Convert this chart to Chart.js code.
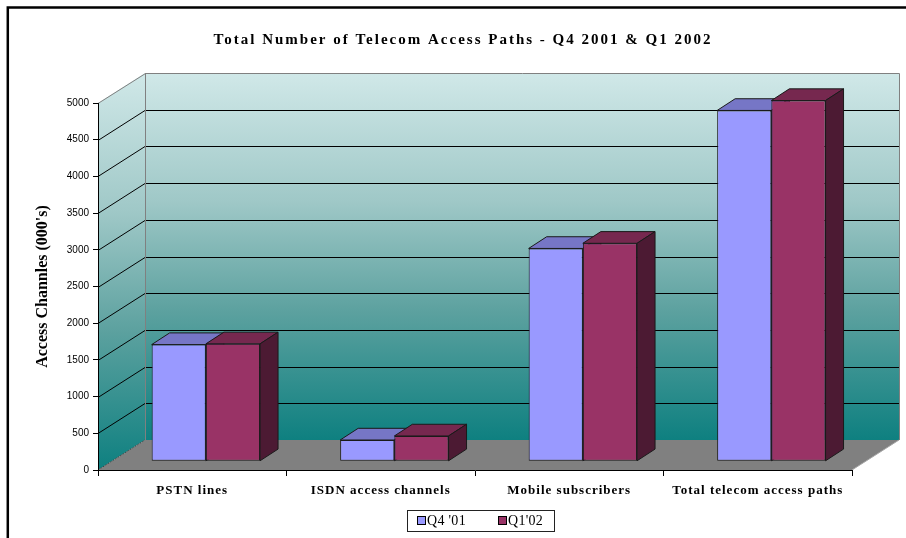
<!DOCTYPE html>
<html>
<head>
<meta charset="utf-8">
<script src="https://cdn.jsdelivr.net/npm/chart.js@4"></script>
<style>
    html, body { margin: 0; padding: 0; background: #fff; }
    #wrap { width: 906px; height: 538px; position: relative; }
</style>
</head>
<body>
<div id="wrap"><canvas id="paths"></canvas></div>
<script>
// =============================================================
// DATA (thousands)
// =============================================================
const categories  = ['PSTN lines', 'ISDN access channels', 'Mobile subscribers', 'Total telecom access paths'];
const seriesNames = ["Q4 '01", "Q1'02"];
const q4_01       = [1590, 290, 2900, 4780];
const q1_02       = [1600, 345, 2970, 4915];
const yMax        = 5000;
const yStep       = 500;

const chartTitle  = 'Total Number of Telecom Access Paths - Q4 2001 & Q1 2002';
const yTitle      = "Access Channles (000's)";



// =============================================================
// 3D LOOK
// =============================================================
const WALL  = { dx: 47, dy: -30 };      // back wall offset from front plane
const SHIFT = { dx: 13.6, dy: -8.7 };   // bars sit a bit behind the front plane
const DEPTH = { dx: 18, dy: -11.7 };    // bar thickness

const faces = [
    { front: '#9999FF', top: '#7676C6', side: '#4D4D80' },
    { front: '#993366', top: '#76284F', side: '#4C1A33' }
];

const SERIF = '"Liberation Serif", "Times New Roman", serif';
const SANS  = '"Liberation Sans", Arial, sans-serif';

function poly(ctx, pts, fill, stroke, lw) {
    ctx.beginPath();
    ctx.moveTo(pts[0][0], pts[0][1]);
    for (let i = 1; i < pts.length; i++) ctx.lineTo(pts[i][0], pts[i][1]);
    ctx.closePath();
    if (fill)   { ctx.fillStyle = fill; ctx.fill(); }
    if (stroke) { ctx.strokeStyle = stroke; ctx.lineWidth = lw || 1; ctx.stroke(); }
}

function wallGradient(ctx, y0, y1) {
    const g = ctx.createLinearGradient(0, y0, 0, y1);
    g.addColorStop(0,    '#D0E8E8');
    g.addColorStop(0.35, '#9FC8C7');
    g.addColorStop(0.65, '#5CA19F');
    g.addColorStop(1,    '#0E8080');
    return g;
}

const scene3d = {
    id: 'scene3d',

    // frame, title, walls, floor, grid
    beforeDraw(chart) {
        const ctx = chart.ctx;
        const ca  = chart.chartArea;
        const ys  = chart.scales.y;
        const L = ca.left, R = ca.right, T = ca.top, B = ca.bottom;

        ctx.save();

        // outer frame
        ctx.strokeStyle = '#000';
        ctx.lineWidth = 2.5;
        ctx.strokeRect(7.8, 7.5, 920, 560);

        // title
        ctx.fillStyle = '#000';
        ctx.font = 'bold 15px ' + SERIF;
        ctx.letterSpacing = '2px';
        ctx.textAlign = 'center';
        ctx.textBaseline = 'middle';
        ctx.fillText(chartTitle, 463, 40);
        ctx.letterSpacing = '0px';

        // side wall + back wall
        poly(ctx, [[L, T], [L + WALL.dx, T + WALL.dy], [L + WALL.dx, B + WALL.dy], [L, B]],
            wallGradient(ctx, T + WALL.dy, B), null);
        poly(ctx, [[L + WALL.dx, T + WALL.dy], [R + WALL.dx, T + WALL.dy], [R + WALL.dx, B + WALL.dy], [L + WALL.dx, B + WALL.dy]],
            wallGradient(ctx, T + WALL.dy, B + WALL.dy), null);

        // gridlines on both walls
        ctx.strokeStyle = '#000';
        ctx.lineWidth = 1;
        ys.ticks.forEach(t => {
            if (t.value <= 0 || t.value >= yMax) return;
            const py = Math.round(ys.getPixelForValue(t.value)) + 0.5;
            ctx.beginPath();
            ctx.moveTo(L, py);
            ctx.lineTo(L + WALL.dx, py + WALL.dy);
            ctx.lineTo(R + WALL.dx, py + WALL.dy);
            ctx.stroke();
        });

        // wall edges
        ctx.strokeStyle = '#808080';
        ctx.beginPath();
        ctx.moveTo(L, T + 0.5);
        ctx.lineTo(L + WALL.dx + 0.5, T + WALL.dy + 0.5);
        ctx.lineTo(R + WALL.dx + 0.5, T + WALL.dy + 0.5);
        ctx.lineTo(R + WALL.dx + 0.5, B + WALL.dy);
        ctx.moveTo(L + WALL.dx + 0.5, T + WALL.dy);
        ctx.lineTo(L + WALL.dx + 0.5, B + WALL.dy);
        ctx.stroke();

        // floor
        poly(ctx, [[L, B], [R, B], [R + WALL.dx, B + WALL.dy], [L + WALL.dx, B + WALL.dy]], '#808080', null);
        ctx.strokeStyle = '#A6A6A6';
        ctx.beginPath();
        ctx.moveTo(R, B);
        ctx.lineTo(R + WALL.dx, B + WALL.dy);
        ctx.stroke();
        ctx.strokeStyle = '#333';
        ctx.setLineDash([1, 1]);
        ctx.beginPath();
        ctx.moveTo(L, B);
        ctx.lineTo(L + WALL.dx, B + WALL.dy);
        ctx.stroke();
        ctx.setLineDash([]);

        ctx.restore();
    },

    // tops and sides, then push the front faces back
    beforeDatasetsDraw(chart) {
        const ctx = chart.ctx;
        ctx.save();
        ctx.lineJoin = 'round';
        for (let i = 0; i < categories.length; i++) {
            chart.data.datasets.forEach((ds, d) => {
                const bar = chart.getDatasetMeta(d).data[i];
                const l = bar.x - bar.width / 2 + SHIFT.dx;
                const r = bar.x + bar.width / 2 + SHIFT.dx;
                const t = bar.y + SHIFT.dy;
                const b = bar.base + SHIFT.dy;
                poly(ctx, [[l, t], [r, t], [r + DEPTH.dx, t + DEPTH.dy], [l + DEPTH.dx, t + DEPTH.dy]],
                    faces[d].top, '#1A1A1A', 1);
                poly(ctx, [[r, t], [r + DEPTH.dx, t + DEPTH.dy], [r + DEPTH.dx, b + DEPTH.dy], [r, b]],
                    faces[d].side, '#1A1A1A', 1);
            });
        }
        ctx.restore();

        ctx.save();
        ctx.translate(SHIFT.dx, SHIFT.dy);
    },

    afterDatasetsDraw(chart) {
        const ctx = chart.ctx;
        ctx.restore();

        const xs = chart.scales.x;
        ctx.save();

        // category labels
        ctx.fillStyle = '#000';
        ctx.font = 'bold 13px ' + SERIF;
        ctx.letterSpacing = '1px';
        ctx.textAlign = 'center';
        ctx.textBaseline = 'middle';
        categories.forEach((c, i) => ctx.fillText(c, xs.getPixelForValue(i), 491));
        ctx.letterSpacing = '0px';

        // legend
        ctx.strokeStyle = '#222';
        ctx.lineWidth = 1;
        ctx.strokeRect(407.5, 510.5, 147, 21);
        ctx.font = '14px ' + SERIF;
        ctx.letterSpacing = '0.3px';
        ctx.textAlign = 'left';
        const lx = [417, 498];
        chart.data.datasets.forEach((ds, d) => {
            ctx.fillStyle = ds.backgroundColor;
            ctx.fillRect(lx[d] + 0.5, 516.5, 8, 8);
            ctx.strokeStyle = '#000';
            ctx.strokeRect(lx[d] + 0.5, 516.5, 8, 8);
            ctx.fillStyle = '#000';
            ctx.fillText(ds.label, lx[d] + 10, 521);
        });

        ctx.restore();
    }
};



// =============================================================
// CHART
// =============================================================
new Chart(document.getElementById('paths'), {
    type: 'bar',
    data: {
        labels: categories,
        datasets: [
            { label: seriesNames[0], data: q4_01, backgroundColor: faces[0].front },
            { label: seriesNames[1], data: q1_02, backgroundColor: faces[1].front }
        ]
    },
    options: {
        responsive: true,
        maintainAspectRatio: false,
        animation: false,
        layout: { padding: { top: 103, right: 54, bottom: 0, left: 0 } },
        datasets: {
            bar: {
                categoryPercentage: 0.575,
                barPercentage: 1,
                borderWidth: 1,
                borderColor: '#1A1A1A',
                borderSkipped: false,
                clip: false
            }
        },
        plugins: {
            legend:  { display: false },
            title:   { display: false },
            tooltip: { enabled: false }
        },
        scales: {
            x: {
                offset: true,
                afterFit: s => { s.height = 68; },
                ticks: { display: false },
                grid: { drawOnChartArea: false, drawTicks: true, tickLength: 6, color: '#000', offset: true },
                border: { color: '#000', width: 1 }
            },
            y: {
                min: 0,
                max: yMax,
                afterFit: s => { s.width = 98; },
                ticks: {
                    stepSize: yStep,
                    padding: 4,
                    color: '#000',
                    font: { family: SANS, size: 10 },
                    callback: v => String(v)
                },
                grid: { drawOnChartArea: false, drawTicks: true, tickLength: 5, color: '#000' },
                border: { color: '#000', width: 1 },
                title: {
                    display: true,
                    text: yTitle,
                    color: '#000',
                    font: { family: SERIF, size: 16, weight: 'bold' },
                    padding: { top: 33, bottom: 0 }
                }
            }
        }
    },
    plugins: [scene3d]
});
</script>
</body>
</html>
